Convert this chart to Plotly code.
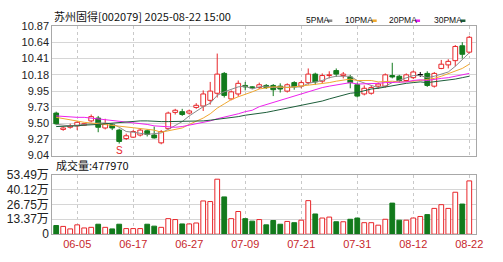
import plotly.graph_objects as go

# ---------------- data ----------------
dates = ["05-30", "06-03", "06-04", "06-05", "06-06", "06-09", "06-10", "06-11", "06-12", "06-13",
         "06-16", "06-17", "06-18", "06-19", "06-20", "06-23", "06-24", "06-25", "06-26", "06-27",
         "06-30", "07-01", "07-02", "07-03", "07-04", "07-07", "07-08", "07-09", "07-10", "07-11",
         "07-14", "07-15", "07-16", "07-17", "07-18", "07-21", "07-22", "07-23", "07-24", "07-25",
         "07-28", "07-29", "07-30", "07-31", "08-01", "08-04", "08-05", "08-06", "08-07", "08-08",
         "08-11", "08-12", "08-13", "08-14", "08-15", "08-18", "08-19", "08-20", "08-21", "08-22"]

opens = [9.64, 9.41, 9.44, 9.46, 9.47, 9.53, 9.57, 9.43, 9.48, 9.40,
         9.28, 9.30, 9.33, 9.39, 9.33, 9.22, 9.42, 9.65, 9.66, 9.64,
         9.72, 9.74, 9.82, 9.92, 10.20, 9.84, 9.91, 10.03, 10.01, 10.00,
         10.03, 10.03, 10.02, 9.95, 10.07, 10.02, 10.07, 10.19, 10.09, 10.17,
         10.24, 10.17, 10.15, 10.04, 9.91, 9.92, 10.02, 10.02, 10.17, 10.16,
         10.10, 10.14, 10.18, 10.20, 10.02, 10.27, 10.32, 10.38, 10.59, 10.50]
closes = [9.49, 9.43, 9.46, 9.51, 9.49, 9.59, 9.44, 9.49, 9.43, 9.24,
          9.32, 9.38, 9.40, 9.34, 9.29, 9.38, 9.64, 9.68, 9.62, 9.67,
          9.75, 9.91, 9.95, 10.19, 9.89, 9.94, 10.06, 10.01, 10.00, 10.04,
          10.00, 9.97, 9.98, 10.04, 10.01, 10.07, 10.19, 10.08, 10.17, 10.18,
          10.19, 10.19, 10.07, 9.88, 9.99, 10.00, 10.05, 10.18, 10.15, 10.10,
          10.18, 10.22, 10.18, 10.03, 10.20, 10.33, 10.37, 10.58, 10.47, 10.71]
highs = [9.66, 9.45, 9.49, 9.53, 9.50, 9.62, 9.60, 9.56, 9.49, 9.42,
         9.35, 9.40, 9.42, 9.41, 9.45, 9.40, 9.66, 9.70, 9.70, 9.69,
         9.78, 9.96, 10.08, 10.48, 10.22, 9.96, 10.10, 10.08, 10.02, 10.07,
         10.05, 10.05, 10.06, 10.06, 10.09, 10.10, 10.27, 10.21, 10.20, 10.23,
         10.27, 10.22, 10.18, 10.07, 10.03, 10.03, 10.07, 10.20, 10.35, 10.18,
         10.20, 10.24, 10.22, 10.23, 10.22, 10.39, 10.40, 10.60, 10.64, 10.73]
lows = [9.47, 9.39, 9.42, 9.40, 9.46, 9.51, 9.37, 9.41, 9.40, 9.21,
        9.26, 9.29, 9.31, 9.31, 9.28, 9.20, 9.41, 9.62, 9.60, 9.62,
        9.70, 9.67, 9.76, 9.86, 9.86, 9.82, 9.87, 9.96, 9.98, 9.98,
        9.98, 9.88, 9.93, 9.93, 9.97, 9.99, 10.04, 10.04, 10.06, 10.13,
        10.15, 10.13, 9.99, 9.86, 9.89, 9.90, 9.98, 10.00, 10.13, 10.07,
        10.08, 10.12, 10.15, 10.01, 10.00, 10.26, 10.27, 10.30, 10.41, 10.48]
volumes = [77800, 69600, 47400, 83600, 55700, 61300, 89200, 61300, 47400, 89200,
           50100, 50100, 50100, 89200, 72000, 61300, 139300, 131000, 91900, 91900,
           100300, 298100, 292500, 493100, 334300, 139300, 203400, 139300, 117000, 131000,
           83600, 122600, 89200, 114200, 103100, 125400, 300900, 181100, 144900, 153200,
           111400, 111400, 133700, 144900, 103100, 103100, 80800, 133700, 278600, 125400,
           125400, 144900, 158800, 175500, 231200, 264700, 231200, 376100, 270200, 477970]

ma5 = [9.48, 9.47, 9.46, 9.47, 9.48, 9.50, 9.50, 9.50, 9.49, 9.44,
       9.38, 9.37, 9.35, 9.34, 9.35, 9.36, 9.41, 9.47, 9.52, 9.60,
       9.67, 9.73, 9.78, 9.89, 9.94, 9.98, 10.01, 10.02, 9.98, 10.01,
       10.02, 10.00, 10.00, 10.01, 10.00, 10.01, 10.06, 10.08, 10.10, 10.14,
       10.16, 10.16, 10.16, 10.10, 10.06, 10.03, 10.00, 10.02, 10.07, 10.10,
       10.13, 10.17, 10.17, 10.14, 10.16, 10.19, 10.22, 10.30, 10.39, 10.49]
ma10 = [9.58, 9.56, 9.55, 9.53, 9.51, 9.50, 9.49, 9.48, 9.47, 9.46,
        9.44, 9.44, 9.43, 9.42, 9.40, 9.37, 9.39, 9.41, 9.43, 9.48,
        9.52, 9.57, 9.63, 9.71, 9.77, 9.83, 9.87, 9.90, 9.94, 9.98,
        10.00, 10.01, 10.01, 10.00, 10.01, 10.02, 10.03, 10.04, 10.06, 10.07,
        10.09, 10.11, 10.12, 10.10, 10.10, 10.10, 10.08, 10.09, 10.09, 10.08,
        10.08, 10.09, 10.10, 10.11, 10.13, 10.16, 10.20, 10.24, 10.27, 10.33]
ma20 = [9.60, 9.59, 9.59, 9.58, 9.58, 9.57, 9.56, 9.55, 9.54, 9.53,
        9.52, 9.51, 9.50, 9.48, 9.46, 9.45, 9.44, 9.44, 9.45, 9.47,
        9.48, 9.50, 9.53, 9.56, 9.58, 9.60, 9.63, 9.66, 9.68, 9.73,
        9.76, 9.79, 9.82, 9.85, 9.89, 9.92, 9.95, 9.97, 10.00, 10.02,
        10.04, 10.06, 10.07, 10.05, 10.05, 10.06, 10.06, 10.07, 10.07, 10.08,
        10.08, 10.10, 10.11, 10.10, 10.12, 10.13, 10.14, 10.16, 10.18, 10.20]
ma30 = [9.45, 9.45, 9.46, 9.46, 9.47, 9.47, 9.48, 9.49, 9.50, 9.51,
        9.52, 9.52, 9.53, 9.53, 9.52, 9.52, 9.52, 9.52, 9.52, 9.52,
        9.52, 9.53, 9.54, 9.55, 9.56, 9.58, 9.59, 9.61, 9.62, 9.64,
        9.65, 9.67, 9.69, 9.71, 9.72, 9.74, 9.76, 9.78, 9.81, 9.84,
        9.87, 9.90, 9.92, 9.93, 9.96, 9.98, 9.99, 10.01, 10.03, 10.04,
        10.06, 10.07, 10.08, 10.07, 10.08, 10.09, 10.10, 10.12, 10.14, 10.16]

price_ticks = ["9.04", "9.27", "9.50", "9.73", "9.95", "10.18", "10.41", "10.64", "10.87"]
vol_ticks = ["0", "13.37万", "26.75万", "40.12万", "53.49万"]
x_tick_dates = ["06-05", "06-17", "06-27", "07-09", "07-21", "07-31", "08-12", "08-22"]

title_text = "苏州固得[002079] 2025-08-22 15:00"
vol_label = "成交量:477970"
signal_date = "06-13"
signal_text = "S"
ma_names = ["5PMA", "10PMA", "20PMA", "30PMA"]

# ---------------- styles ----------------
RED = "#e8262a"
GREEN = "#127a1c"
BLACK = "#000000"
MA_COLORS = ["#8a8a8a", "#f0a830", "#ee22ee", "#1d5e3a"]
W, H = 503, 262
PX_L, PX_R = 53, 483
PX_PT, PX_PB = 20, 157
PX_VT, PX_VB = 177, 240


def py(px):
    return 1 - px / H


def colour(o, c):
    if c > o:
        return RED
    if c < o:
        return GREEN
    return BLACK


cols = [colour(o, c) for o, c in zip(opens, closes)]
fills = ["white" if c == RED else c for c in cols]

fig = go.Figure()

# candle bodies
body_h = [max(abs(c - o), 0.003) for o, c in zip(opens, closes)]
body_b = [min(o, c) for o, c in zip(opens, closes)]
fig.add_trace(go.Bar(x=dates, y=body_h, base=body_b, width=0.68,
                     marker=dict(color=fills, line=dict(color=cols, width=1)),
                     xaxis="x", yaxis="y", hoverinfo="skip"))

# wicks
for colr in (RED, GREEN, BLACK):
    wx, wy = [], []
    for d, o, c, h, l, cc in zip(dates, opens, closes, highs, lows, cols):
        if cc != colr:
            continue
        top, bot = max(o, c), min(o, c)
        wx += [d, d, None, d, d, None]
        wy += [h, top, None, bot, l, None]
    if wx:
        fig.add_trace(go.Scatter(x=wx, y=wy, mode="lines", line=dict(color=colr, width=1),
                                 xaxis="x", yaxis="y", hoverinfo="skip", connectgaps=False))

# moving averages
for name, series, mc in zip(ma_names, [ma5, ma10, ma20, ma30], MA_COLORS):
    fig.add_trace(go.Scatter(x=dates, y=series, mode="lines", name=name,
                             line=dict(color=mc, width=1), xaxis="x", yaxis="y", hoverinfo="skip"))

# volume bars
vcols = [RED if c == BLACK else c for c in cols]
vfills = ["white" if c == RED else c for c in vcols]
fig.add_trace(go.Bar(x=dates, y=volumes, width=0.68,
                     marker=dict(color=vfills, line=dict(color=vcols, width=1)),
                     xaxis="x2", yaxis="y2", hoverinfo="skip"))

xdom = [PX_L / W, PX_R / W]
xr = [-0.56, len(dates) - 1 + 1.0]
common_x = dict(type="category", range=xr, tickvals=x_tick_dates, showgrid=True,
                gridcolor="#c9c9c9", griddash="dot", gridwidth=1, showline=True, mirror=True,
                linecolor="#a8a8a8", linewidth=1, ticks="", zeroline=False, fixedrange=True)

fig.update_layout(
    width=W, height=H, margin=dict(l=0, r=0, t=0, b=0),
    paper_bgcolor="white", plot_bgcolor="white", showlegend=False, barmode="overlay",
    font=dict(family="Arial, Liberation Sans, Noto Sans CJK SC", size=11, color="#222"),
    xaxis=dict(domain=xdom, anchor="y", showticklabels=False, **common_x),
    xaxis2=dict(domain=xdom, anchor="y2", showticklabels=True, ticktext=x_tick_dates,
                tickfont=dict(color="#c8282c", size=11), **common_x),
    yaxis=dict(domain=[py(PX_PB), py(PX_PT)], range=[float(price_ticks[0]), float(price_ticks[-1])],
               tickvals=[float(t) for t in price_ticks], ticktext=price_ticks,
               showgrid=True, gridcolor="#d6d6d6", gridwidth=1, showline=True, mirror=True,
               linecolor="#a8a8a8", ticks="", zeroline=False, tickfont=dict(size=11, color="#222")),
    yaxis2=dict(domain=[py(PX_VB), py(PX_VT)],
                range=[0, float(vol_ticks[-1].rstrip("万")) * 10000],
                tickvals=[float(t.rstrip("万")) * 10000 for t in vol_ticks], ticktext=vol_ticks,
                showgrid=True, gridcolor="#d6d6d6", gridwidth=1, showline=True, mirror=True,
                linecolor="#a8a8a8", ticks="", zeroline=False, tickfont=dict(size=12, color="#222")),
)

ann = []
ann.append(dict(x=PX_L / W, y=py(10), xref="paper", yref="paper", text=title_text,
                showarrow=False, xanchor="left", yanchor="middle",
                font=dict(family="Noto Sans CJK SC", size=11, color="#111")))
ann.append(dict(x=55 / W, y=py(167), xref="paper", yref="paper", text=vol_label,
                showarrow=False, xanchor="left", yanchor="middle",
                font=dict(family="Noto Sans CJK SC", size=11, color="#111")))
ann.append(dict(x=signal_date, y=py(152), xref="x", yref="paper", text=signal_text,
                showarrow=False, xanchor="center", yanchor="middle",
                font=dict(family="Arial", size=10, color=RED)))

legend_x = [308, 348, 392, 438]
shapes = []
for name, lx, mc in zip(ma_names, legend_x, MA_COLORS):
    ann.append(dict(x=lx / W, y=py(14), xref="paper", yref="paper", text=name,
                    showarrow=False, xanchor="left", yanchor="middle",
                    font=dict(family="Arial", size=8.5, color="#111")))
    tw = 22 if len(name) == 4 else 27
    shapes.append(dict(type="line", xref="paper", yref="paper",
                       x0=(lx + tw + 2) / W, x1=(lx + tw + 7) / W, y0=py(14.5), y1=py(14.5),
                       line=dict(color=mc, width=2.5)))
fig.update_layout(annotations=ann, shapes=shapes)

fig.write_html("out.html")
